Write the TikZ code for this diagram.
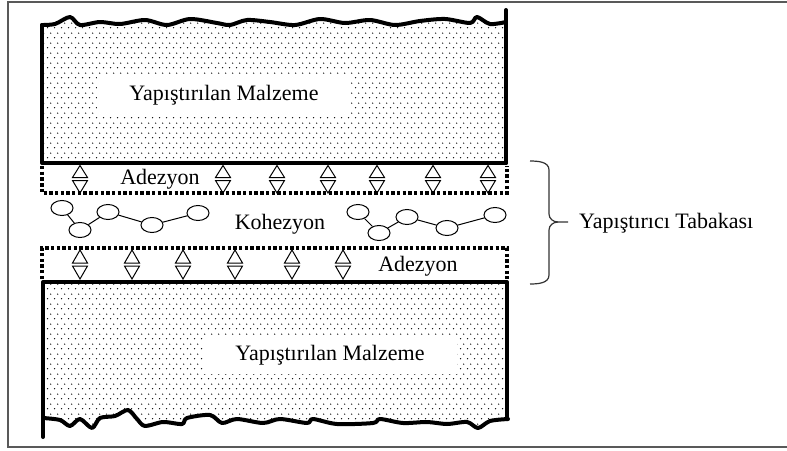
\documentclass[tikz,border=0pt]{standalone}
\usepackage{fontspec}
\setmainfont{Liberation Serif}
\usetikzlibrary{patterns.meta,shapes.geometric}
\tikzdeclarepattern{
  name=sanddots,
  type=uncolored,
  bounding box={(0pt,0pt) and (6.6pt,10pt)},
  tile size={(6.6pt,10pt)},
  code={\fill (1.65pt,2.5pt) circle (0.75pt); \fill (4.95pt,7.5pt) circle (0.75pt);}
}
\tikzset{
  blockedge/.style={line width=4pt, line cap=round, line join=round},
  bandedge/.style={line width=3.4pt, dash pattern=on 3.4pt off 2.3pt},
  tri/.style={line width=1pt, line join=miter},
  molecule/.style={draw, ellipse, line width=1pt, minimum width=22pt, minimum height=15pt, inner sep=0pt},
  bond/.style={line width=1pt},
  lbl/.style={font=\fontsize{22}{26}\selectfont, inner sep=0pt},
  whitelbl/.style={lbl, fill=white, inner xsep=32pt, minimum height=38pt},
  frameline/.style={draw=black!65, line width=1.5pt},
  bracestyle/.style={line width=1.2pt, black!80}
}
\begin{document}
\begin{tikzpicture}[x=1pt,y=-1pt]
\useasboundingbox (0,0) rectangle (787,450);
\fill[white] (0,0) rectangle (787,450);
% outer frame
\draw[frameline] (790,2) -- (8,2) -- (8,447) -- (790,447);

% upper block
\fill[pattern=sanddots] plot[smooth] coordinates {(42,25) (55,24) (70,17) (80,25) (100,22) (120,24) (145,20) (167,25) (190,19) (217,23) (230,25) (247,20) (270,22) (295,25) (320,19) (345,23) (370,20) (395,25) (420,21) (445,19) (470,23) (477,17) (490,24) (506,22)} -- (506,163) -- (42,163) -- cycle;
\draw[blockedge] plot[smooth] coordinates {(42,25) (55,24) (70,17) (80,25) (100,22) (120,24) (145,20) (167,25) (190,19) (217,23) (230,25) (247,20) (270,22) (295,25) (320,19) (345,23) (370,20) (395,25) (420,21) (445,19) (470,23) (477,17) (490,24) (506,22)};
\draw[blockedge] (42,25) -- (42,163) -- (506,163);
\draw[blockedge] (506,10) -- (506,163);

% lower block
\fill[pattern=sanddots] (43,282) -- (507,282) -- (507,419) -- plot[smooth] coordinates {(508,419) (490,421) (478,428) (467,422) (447,424) (427,422) (403,423) (380,419) (373,423) (337,424) (313,419) (307,423) (280,419) (263,423) (237,419) (222,423) (210,415) (187,418) (182,424) (163,422) (145,426) (137,419) (128,410) (115,416) (100,418) (92,428) (80,419) (70,426) (60,420) (43,418)} -- cycle;
\draw[blockedge] plot[smooth] coordinates {(43,418) (60,420) (70,426) (80,419) (92,428) (100,418) (115,416) (128,410) (137,419) (145,426) (163,422) (182,424) (187,418) (210,415) (222,423) (237,419) (263,423) (280,419) (307,423) (313,419) (337,424) (373,423) (380,419) (403,423) (427,422) (447,424) (467,422) (478,428) (490,421) (508,419)};
\draw[blockedge] (43,437) -- (43,282) -- (507,282) -- (507,419);

% adhesion bands
\draw[bandedge] (42,166) -- (42,193) -- (507,193) -- (507,166);
\draw[bandedge] (42,279) -- (42,248) -- (507,248) -- (507,279);

% adhesion triangle pairs
\foreach \x in {80,223,277,328,377,433,488}{
  \draw[tri] (\x,165.5) -- (\x+7.5,177.5) -- (\x-7.5,177.5) -- cycle;
  \draw[tri] (\x-7.5,180.5) -- (\x+7.5,180.5) -- (\x,193) -- cycle;
}
\foreach \x in {80,132,183,235,292,343}{
  \draw[tri] (\x,250) -- (\x+7.5,263) -- (\x-7.5,263) -- cycle;
  \draw[tri] (\x-7.5,266) -- (\x+7.5,266) -- (\x,279) -- cycle;
}

% labels
\node[whitelbl] (m1) at (224,95) {Yapıştırılan Malzeme};
\node[whitelbl] (m2) at (330,355) {Yapıştırılan Malzeme};
\node[lbl] (a1) at (160,179) {Adezyon};
\node[lbl] (a2) at (418,266) {Adezyon};
\node[lbl] (k) at (280,224) {Kohezyon};
\node[lbl, anchor=west] (yt) at (579,223) {Yapıştırıcı Tabakası};

% molecules
\node[molecule] (l1) at (62,208) {};
\node[molecule] (l2) at (80,230) {};
\node[molecule] (l3) at (108,212) {};
\node[molecule] (l4) at (152,225) {};
\node[molecule] (l5) at (198,213) {};
\draw[bond] (l1) -- (l2) -- (l3) -- (l4) -- (l5);
\node[molecule] (r1) at (358,212) {};
\node[molecule] (r2) at (379,233) {};
\node[molecule] (r3) at (407,217) {};
\node[molecule] (r4) at (447,228) {};
\node[molecule] (r5) at (495,215) {};
\draw[bond] (r1) -- (r2) -- (r3) -- (r4) -- (r5);

% brace
\coordinate (bt) at (530,161);
\coordinate (bb) at (530,284);
\coordinate (btip) at (568,222);
\draw[bracestyle] (bt) to[out=0,in=90] (549,170) -- (549,214) to[out=-90,in=180] (558,222) -- (btip);
\draw[bracestyle] (bb) to[out=0,in=-90] (549,275) -- (549,230) to[out=90,in=180] (558,222);
\end{tikzpicture}
\end{document}
